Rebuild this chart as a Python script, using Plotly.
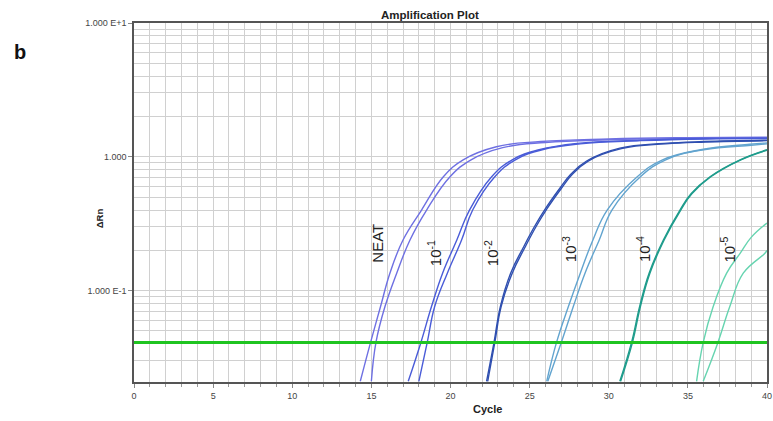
import plotly.graph_objects as go

# ---------------- data ----------------
threshold = 0.041

neat_a_cycle = [14.3, 14.95, 15.58, 16.17, 17.0, 18.17, 19.55, 20.8, 22.9, 25.7, 30, 35, 40]
neat_a_rn = [0.021, 0.041, 0.076, 0.135, 0.239, 0.40, 0.71, 0.95, 1.19, 1.30, 1.36, 1.39, 1.40]
neat_b_cycle = [15.0, 15.29, 15.86, 16.6, 17.44, 18.49, 19.97, 21.3, 23.3, 26, 30, 35, 40]
neat_b_rn = [0.021, 0.041, 0.076, 0.135, 0.239, 0.40, 0.71, 0.95, 1.17, 1.28, 1.34, 1.37, 1.38]

d1_a_cycle = [17.33, 18.13, 18.8, 19.5, 20.4, 21.2, 22.6, 23.9, 25.6, 28, 32, 36, 40]
d1_a_rn = [0.021, 0.041, 0.076, 0.135, 0.239, 0.40, 0.71, 0.95, 1.13, 1.26, 1.33, 1.37, 1.38]
d1_b_cycle = [18.0, 18.53, 19.0, 19.8, 20.7, 21.4, 22.8, 24.1, 25.8, 28.2, 32, 36, 40]
d1_b_rn = [0.021, 0.041, 0.076, 0.135, 0.239, 0.40, 0.71, 0.95, 1.13, 1.25, 1.32, 1.36, 1.37]

d2_a_cycle = [22.28, 22.75, 23.15, 23.8, 24.6, 25.3, 26.0, 26.9, 27.6, 28.6, 30.7, 33.5, 36.0, 40]
d2_a_rn = [0.021, 0.041, 0.076, 0.135, 0.21, 0.30, 0.41, 0.58, 0.74, 0.93, 1.16, 1.26, 1.30, 1.33]
d2_b_cycle = [22.35, 22.8, 23.2, 23.9, 24.7, 25.4, 26.1, 27.0, 27.7, 28.7, 30.8, 33.6, 36.1, 40]
d2_b_rn = [0.021, 0.041, 0.076, 0.135, 0.21, 0.30, 0.41, 0.58, 0.74, 0.93, 1.15, 1.25, 1.29, 1.32]

d3_a_cycle = [26.08, 26.7, 27.45, 28.2, 29.0, 29.9, 31.8, 33.4, 35.8, 38.9, 40]
d3_a_rn = [0.021, 0.041, 0.076, 0.135, 0.239, 0.40, 0.71, 0.95, 1.13, 1.24, 1.27]
d3_b_cycle = [26.15, 27.0, 27.76, 28.5, 29.4, 30.2, 32.0, 33.6, 36.0, 39.0, 40]
d3_b_rn = [0.021, 0.041, 0.076, 0.135, 0.239, 0.40, 0.71, 0.95, 1.13, 1.22, 1.25]

d4_a_cycle = [30.7, 31.44, 31.95, 32.55, 33.45, 34.5, 35.2, 36.4, 38.3, 40]
d4_a_rn = [0.021, 0.041, 0.076, 0.135, 0.239, 0.40, 0.53, 0.71, 0.95, 1.13]
d4_b_cycle = [30.75, 31.5, 32.0, 32.6, 33.5, 34.55, 35.25, 36.45, 38.35, 40]
d4_b_rn = [0.021, 0.041, 0.076, 0.135, 0.239, 0.40, 0.53, 0.71, 0.95, 1.12]

d5_a_cycle = [35.55, 35.97, 36.6, 37.45, 38.3, 39.0, 40]
d5_a_rn = [0.021, 0.041, 0.076, 0.135, 0.19, 0.25, 0.32]
d5_b_cycle = [35.97, 36.9, 37.65, 38.5, 39.87, 40]
d5_b_rn = [0.021, 0.041, 0.076, 0.135, 0.19, 0.20]

series_labels = ["NEAT", "10<sup>-1</sup>", "10<sup>-2</sup>", "10<sup>-3</sup>", "10<sup>-4</sup>", "10<sup>-5</sup>"]
series_colors = ["#6e70e2", "#4a5cd8", "#2f4fb0", "#62a4cf", "#1f9c8c", "#66d4b0"]

curves = [
    (neat_a_cycle, neat_a_rn, 0), (neat_b_cycle, neat_b_rn, 0),
    (d1_a_cycle, d1_a_rn, 1), (d1_b_cycle, d1_b_rn, 1),
    (d2_a_cycle, d2_a_rn, 2), (d2_b_cycle, d2_b_rn, 2),
    (d3_a_cycle, d3_a_rn, 3), (d3_b_cycle, d3_b_rn, 3),
    (d4_a_cycle, d4_a_rn, 4), (d4_b_cycle, d4_b_rn, 4),
    (d5_a_cycle, d5_a_rn, 5), (d5_b_cycle, d5_b_rn, 5),
]

x_ticks = [0, 5, 10, 15, 20, 25, 30, 35, 40]
y_ticks = [0.1, 1, 10]
y_ticktext = ["1.000 E-1", "1.000", "1.000 E+1"]

# ---------------- figure ----------------
fig = go.Figure()

for cx, cy, idx in curves:
    fig.add_trace(go.Scatter(
        x=cx, y=cy, mode="lines",
        line=dict(color=series_colors[idx], width=1.4, shape="spline", smoothing=1.2),
        hoverinfo="skip", showlegend=False))

fig.add_trace(go.Scatter(
    x=[0, 40], y=[threshold, threshold], mode="lines",
    line=dict(color="#1fc420", width=3), hoverinfo="skip", showlegend=False))

minor_y = [m * 10 ** e for e in (-2, -1, 0) for m in range(2, 10)]
minor_y = [v for v in minor_y if v > 0.021]

grid_col = "#d0d0d0"
fig.update_layout(
    width=773, height=421,
    margin=dict(l=134, r=6, t=23, b=39),
    plot_bgcolor="white", paper_bgcolor="white",
    font=dict(family="Arial, Liberation Sans, sans-serif", color="#444"),
    showlegend=False,
    xaxis=dict(
        range=[0, 40], tickmode="array", tickvals=x_ticks, automargin=False,
        ticks="outside", ticklen=4, tickcolor="#888",
        tickfont=dict(size=9, color="#444"),
        showgrid=True, gridcolor=grid_col, gridwidth=1.2,
        minor=dict(dtick=1, tick0=0, showgrid=True, gridcolor=grid_col, gridwidth=1.2,
                   ticks="outside", ticklen=3, tickcolor="#999"),
        showline=True, mirror=True, linecolor="#555", linewidth=1.5, zeroline=False,
    ),
    yaxis=dict(
        type="log", range=[-1.683, 1.0], automargin=False,
        tickmode="array", tickvals=y_ticks, ticktext=y_ticktext,
        ticks="outside", ticklen=4, tickcolor="#888",
        tickfont=dict(size=9, color="#444"),
        showgrid=True, gridcolor=grid_col, gridwidth=1.2,
        minor=dict(tickmode="array", tickvals=minor_y, showgrid=True,
                   gridcolor=grid_col, gridwidth=1.2, ticks=""),
        showline=True, mirror=True, linecolor="#555", linewidth=1.5, zeroline=False,
    ),
)

# titles
fig.add_annotation(text="<b>Amplification Plot</b>", xref="paper", yref="paper",
                   x=0.4676, y=1.0223, showarrow=False,
                   font=dict(size=11.5, color="#222"), xanchor="center", yanchor="middle")
fig.add_annotation(text="<b>Cycle</b>", xref="paper", yref="paper",
                   x=0.5577, y=-0.076, showarrow=False,
                   font=dict(size=11, color="#222"), xanchor="center", yanchor="middle")
fig.add_annotation(text="<b>ΔRn</b>", xref="paper", yref="paper",
                   x=-0.0553, y=0.456, showarrow=False, textangle=-90,
                   font=dict(size=9.5, color="#222"), xanchor="center", yanchor="middle")
fig.add_annotation(text="<b>b</b>", xref="paper", yref="paper",
                   x=-0.180, y=0.919, showarrow=False,
                   font=dict(size=20, color="#111"), xanchor="center", yanchor="middle")

# dilution labels (rotated)
label_pos = [(15.39, -0.645), (18.96, -0.72), (22.56, -0.72), (27.49, -0.69), (32.16, -0.69), (37.5, -0.69)]
for lbl, (lx, ly) in zip(series_labels, label_pos):
    fig.add_annotation(text=lbl, x=lx, y=ly, xref="x", yref="y", showarrow=False,
                       textangle=-90, font=dict(size=15, color="#222"),
                       xanchor="center", yanchor="middle")

fig.write_html("out.html", config={"displayModeBar": False},
               post_script="document.body.style.margin='0';")
